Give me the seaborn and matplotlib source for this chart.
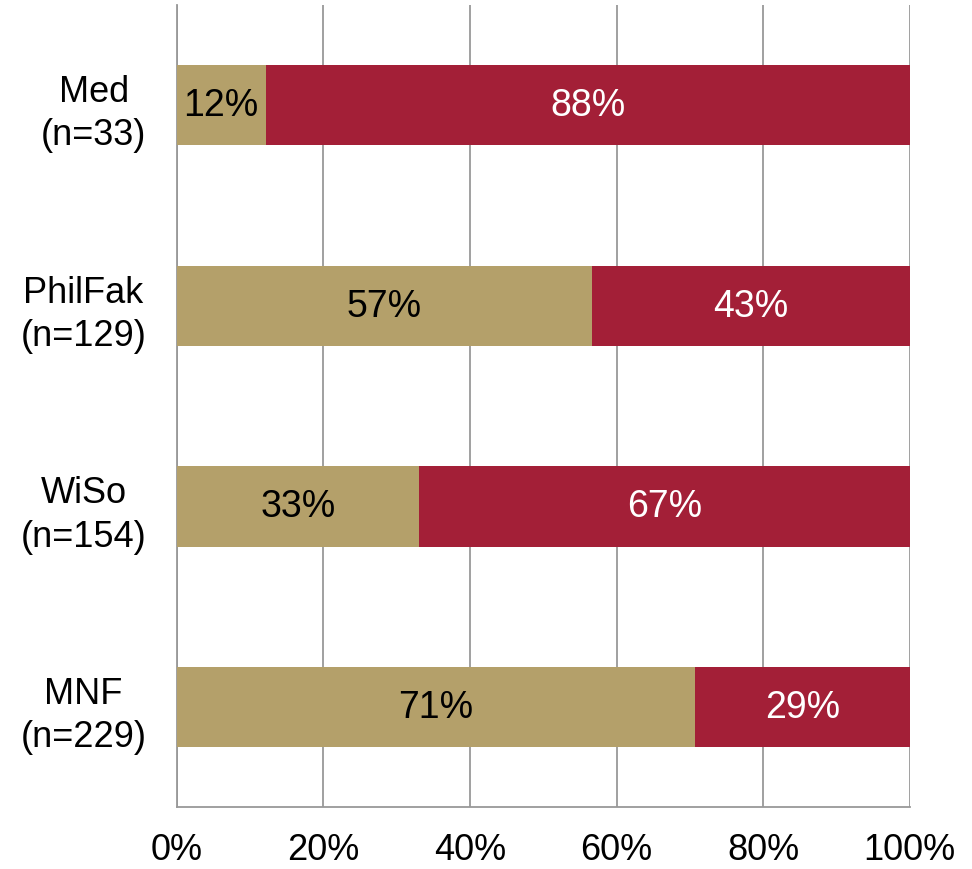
import pandas as pd
import matplotlib.pyplot as plt
import seaborn as sns

# Datos (Anteile in %)
gruppen = ["Med\n(n=33)", "PhilFak\n(n=129)", "WiSo\n(n=154)", "MNF\n(n=229)"]
anteil_a = [12.1, 56.6, 33.1, 70.7]
anteil_b = [87.9, 43.4, 66.9, 29.3]

df = pd.DataFrame({"Gruppe": gruppen, "A": anteil_a, "B": anteil_b})
df["Gesamt"] = df["A"] + df["B"]

sns.set_style("white")
plt.rcParams["font.family"] = ["Liberation Sans", "DejaVu Sans"]

fig = plt.figure(figsize=(9.72, 8.7), dpi=100)
ax = fig.add_axes([0.182, 0.071, 0.754, 0.922])

tan = "#B4A06A"
rot = "#A31F37"

sns.barplot(data=df, y="Gruppe", x="Gesamt", color=rot, orient="h",
            width=0.4, saturation=1, linewidth=0, ax=ax, zorder=3)
sns.barplot(data=df, y="Gruppe", x="A", color=tan, orient="h",
            width=0.4, saturation=1, linewidth=0, ax=ax, zorder=3)

# Beschriftung in den Balken
for i, row in df.iterrows():
    ax.text(row["A"] / 2, i, f"{row['A']:.0f}%", ha="center", va="center",
            fontsize=27, color="black", zorder=4)
    ax.text(row["A"] + row["B"] / 2, i, f"{row['B']:.0f}%", ha="center",
            va="center", fontsize=27, color="white", zorder=4)

ax.set_xlim(0, 100)
ax.set_ylim(3.5, -0.5)
ax.set_xticks(range(0, 101, 20))
ax.set_xticklabels([f"{t}%" for t in range(0, 101, 20)])
ax.set_xlabel("")
ax.set_ylabel("")

ax.grid(axis="x", color="#999999", linewidth=1.3, zorder=0)
ax.grid(axis="y", visible=False)
for s in ["top", "right"]:
    ax.spines[s].set_visible(False)
for s in ["left", "bottom"]:
    ax.spines[s].set_color("#999999")
    ax.spines[s].set_linewidth(1.3)

ax.tick_params(axis="x", length=0, pad=18, labelsize=26, labelcolor="black")
ax.tick_params(axis="y", length=0, pad=22, labelsize=26, labelcolor="black")
for lbl in ax.get_yticklabels():
    lbl.set_multialignment("center")
    lbl.set_linespacing(1.3)

plt.savefig("out.png", dpi=100)
